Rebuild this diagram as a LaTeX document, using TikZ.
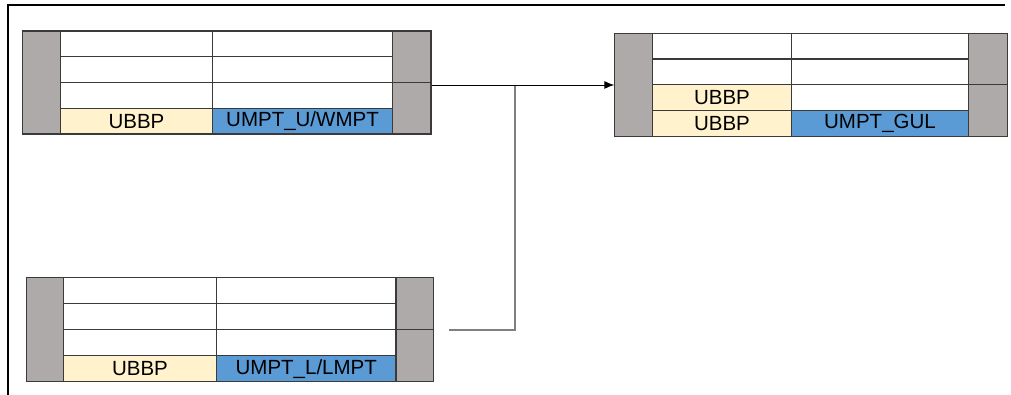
\documentclass[tikz,border=0pt]{standalone}
\usepackage{fontspec}
\setmainfont{Liberation Sans}
\usetikzlibrary{arrows.meta}
\definecolor{slotgray}{HTML}{AEAAAA}
\definecolor{ubbpyellow}{HTML}{FFF2CC}
\definecolor{umptblue}{HTML}{5B9BD5}
\definecolor{edgegray}{HTML}{3A3A3A}
\tikzstyle{cell}=[draw=edgegray, line width=1.1pt
,inner sep=0pt, outer sep=0pt
,anchor=north west
,font=\fontsize{20.5}{20.5}\selectfont
]
\tikzstyle{slot} = [cell, fill=slotgray]
\tikzstyle{free cell} = [cell, fill=white]
\tikzstyle{ubbp cell} = [cell, fill=ubbpyellow]
\tikzstyle{umpt cell} = [cell, fill=umptblue]
\tikzstyle{link} = [draw, line width=0.9pt, -{Latex[length=10pt,width=8pt]}]
\tikzstyle{feed} = [draw, line width=1.2pt, color=gray]
\tikzstyle{frame} = [draw, line width=1.5pt, black]
\tikzset{size/.style 2 args={minimum width=#1pt, minimum height=#2pt}}

\begin{document}
\begin{tikzpicture}[x=1pt,y=-1pt]
    \useasboundingbox (0,0) rectangle (1011,395);
    \draw[frame] (8,395) -- (8,5) -- (1005,5);

    % Upper source board
    \node[slot, size={37.6}{103}] (A_L) at (22.7,31) {};
    \foreach \r in {0,1,2} {
        \node[free cell, size={152.4}{25.75}] (A_a\r) at (60.3,{31+\r*25.75}) {};
        \node[free cell, size={179.6}{25.75}] (A_b\r) at (212.7,{31+\r*25.75}) {};
    }
    \node[ubbp cell, size={152.4}{25.75}] (A_a3) at (60.3,108.25) {UBBP};
    \node[umpt cell, size={179.6}{25.75}] (A_b3) at (212.7,108.25) {UMPT\_U/WMPT};
    \node[slot, size={38.7}{51.5}] (A_R1) at (392.3,31) {};
    \node[slot, size={38.7}{51.5}] (A_R2) at (392.3,82.5) {};

    % Target board
    \node[slot, size={38}{102.8}] (B_L) at (614.3,33.3) {};
    \foreach \r in {0,1} {
        \node[free cell, size={139.4}{25.7}] (B_a\r) at (652.3,{33.3+\r*25.7}) {};
        \node[free cell, size={176.6}{25.7}] (B_b\r) at (791.7,{33.3+\r*25.7}) {};
    }
    \node[ubbp cell, size={139.4}{25.7}] (B_a2) at (652.3,84.7) {UBBP};
    \node[free cell, size={176.6}{25.7}] (B_b2) at (791.7,84.7) {};
    \node[ubbp cell, size={139.4}{25.7}] (B_a3) at (652.3,110.4) {UBBP};
    \node[umpt cell, size={176.6}{25.7}] (B_b3) at (791.7,110.4) {UMPT\_GUL};
    \node[slot, size={39.4}{51.4}] (B_R1) at (968.3,33.3) {};
    \node[slot, size={39.4}{51.4}] (B_R2) at (968.3,84.7) {};

    % Lower source board
    \node[slot, size={37}{104}] (C_L) at (26.5,277.7) {};
    \foreach \r in {0,1,2} {
        \node[free cell, size={153}{26}] (C_a\r) at (63.5,{277.7+\r*26}) {};
        \node[free cell, size={179.5}{26}] (C_b\r) at (216.5,{277.7+\r*26}) {};
    }
    \node[ubbp cell, size={153}{26}] (C_a3) at (63.5,355.7) {UBBP};
    \node[umpt cell, size={179.5}{26}] (C_b3) at (216.5,355.7) {UMPT\_L/LMPT};
    \node[slot, size={37.5}{52}] (C_R1) at (396,277.7) {};
    \node[slot, size={37.5}{52}] (C_R2) at (396,329.7) {};

    % Connections
    \coordinate (A_out) at (431.6,85);
    \coordinate (joint) at (515,85);
    \coordinate (C_out) at (449,330);
    \path[feed] (C_out) -| (joint);
    \path[link] (A_out) -- (A_out -| B_L.west);
\end{tikzpicture}
\end{document}
